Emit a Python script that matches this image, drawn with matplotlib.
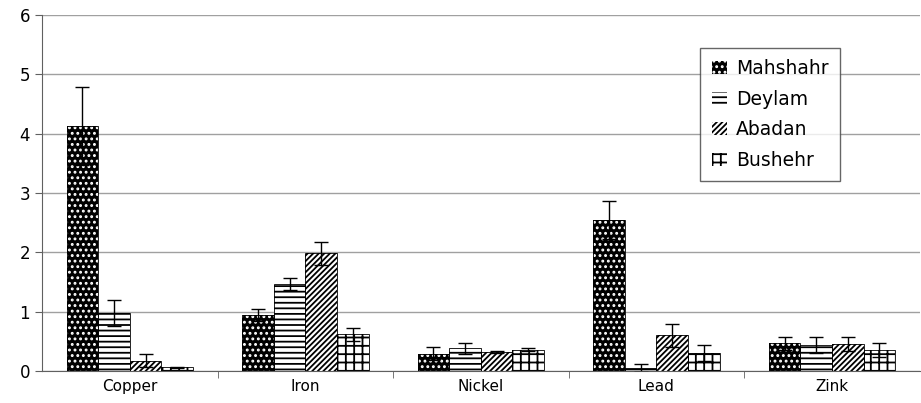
import matplotlib.pyplot as plt
import numpy as np

plt.rcParams['font.family'] = ['DejaVu Sans']
plt.rcParams['hatch.linewidth'] = 1.3

metals = ['Copper', 'Iron', 'Nickel', 'Lead', 'Zink']
sites = ['Mahshahr', 'Deylam', 'Abadan', 'Bushehr']

mahshahr = [4.13, 0.95, 0.29, 2.54, 0.47]
deylam = [0.98, 1.47, 0.38, 0.05, 0.44]
abadan = [0.17, 1.98, 0.32, 0.60, 0.45]
bushehr = [0.06, 0.62, 0.36, 0.30, 0.35]

mahshahr_err = [0.66, 0.10, 0.11, 0.32, 0.11]
deylam_err = [0.22, 0.10, 0.10, 0.06, 0.14]
abadan_err = [0.11, 0.20, 0.02, 0.20, 0.12]
bushehr_err = [0.01, 0.11, 0.03, 0.13, 0.12]

values = [mahshahr, deylam, abadan, bushehr]
errors = [mahshahr_err, deylam_err, abadan_err, bushehr_err]
# face colour, hatch colour, hatch
styles = [('black', 'white', '...'),
          ('white', 'black', '---'),
          ('white', 'black', '//////'),
          ('white', 'black', '++')]

fig = plt.figure(figsize=(9.21, 4.03), dpi=100)
ax = fig.add_axes([0.0456, 0.0794, 0.953, 0.884])

x = np.arange(len(metals))
width = 0.18
handles = []
for i, (vals, errs) in enumerate(zip(values, errors)):
    face, hcol, hatch = styles[i]
    pos = x + (i - 1.5) * width
    b = ax.bar(pos, vals, width, color=face, edgecolor=hcol, hatch=hatch,
               linewidth=0, zorder=2, label=sites[i])
    ax.bar(pos, vals, width, fill=False, edgecolor='black', linewidth=0.6, zorder=3)
    ax.errorbar(pos, vals, yerr=errs, fmt='none', ecolor='black',
                elinewidth=1, capsize=5, capthick=1, zorder=4)
    handles.append(b)

ax.set_xlim(-0.5, 4.5)
ax.set_ylim(0, 6)
ax.set_yticks(range(7))
ax.yaxis.grid(True, color='#a0a0a0', linewidth=1, zorder=0)
ax.set_axisbelow(True)

ax.set_xticks(x)
ax.set_xticklabels(metals, fontsize=11)
ax.tick_params(axis='x', length=0, pad=6)
ax.set_xticks(np.arange(0.5, 4.5, 1), minor=True)
ax.tick_params(axis='x', which='minor', length=5, color='#606060')
ax.tick_params(axis='y', labelsize=12, length=5, color='#606060')

for s in ['top', 'right']:
    ax.spines[s].set_visible(False)
ax.spines['left'].set_color('#606060')
ax.spines['bottom'].set_color('#606060')

leg = ax.legend(handles=handles, labels=sites, loc='upper left',
                bbox_to_anchor=(0.75, 0.907), borderaxespad=0, fontsize=13.5,
                frameon=True, fancybox=False, edgecolor='#404040',
                handlelength=0.8, handleheight=0.7, handletextpad=0.5,
                labelspacing=0.62, borderpad=0.6)
leg.get_frame().set_linewidth(1)

fig.savefig('out.png', dpi=100)
